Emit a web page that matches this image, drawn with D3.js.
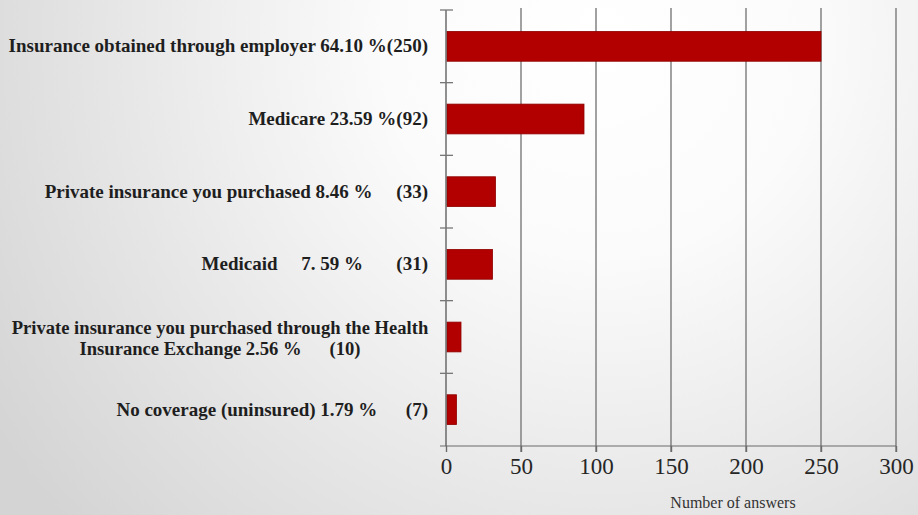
<!DOCTYPE html>
<html>
<head>
<meta charset="utf-8">
<script src="https://cdn.jsdelivr.net/npm/d3@7"></script>
<style>
html,body{margin:0;padding:0;overflow:hidden;}
svg{display:block;}
</style>
</head>
<body>
<svg id="chart" width="918" height="515"></svg>
<script>
// ---- data ----
const categories = [
  "Insurance obtained through employer",
  "Medicare",
  "Private insurance you purchased",
  "Medicaid",
  "Private insurance you purchased through the Health Insurance Exchange",
  "No coverage (uninsured)"
];
const labelLines = [
  ["Insurance obtained through employer 64.10 %(250)"],
  ["Medicare 23.59 %(92)"],
  ["Private insurance you purchased 8.46 %\u00a0\u00a0\u00a0\u00a0\u00a0(33)"],
  ["Medicaid\u00a0\u00a0\u00a0\u00a0\u00a07. 59 %\u00a0\u00a0\u00a0\u00a0\u00a0\u00a0\u00a0(31)"],
  ["Private insurance you purchased through the Health", "Insurance Exchange 2.56 %\u00a0\u00a0\u00a0\u00a0\u00a0\u00a0(10)"],
  ["No coverage (uninsured) 1.79 %\u00a0\u00a0\u00a0\u00a0\u00a0\u00a0(7)"]
];
const values = [250, 92, 33, 31, 10, 7];
const percents = [64.10, 23.59, 8.46, 7.59, 2.56, 1.79];
const xTicks = [0, 50, 100, 150, 200, 250, 300];
const xTitle = "Number of answers";

// ---- layout ----
const svg = d3.select("#chart");
const W = 918, H = 515;
const m = {left: 446, right: 22, top: 10, bottom: 69};

const defs = svg.append("defs");
const grad = defs.append("radialGradient").attr("id", "bg")
  .attr("gradientUnits", "userSpaceOnUse")
  .attr("cx", 600).attr("cy", 40).attr("r", 720);
grad.append("stop").attr("offset", "0%").attr("stop-color", "#ffffff");
grad.append("stop").attr("offset", "30%").attr("stop-color", "#fbfbfb");
grad.append("stop").attr("offset", "100%").attr("stop-color", "#d4d4d4");
svg.append("rect").attr("width", W).attr("height", H).attr("fill", "url(#bg)");

const x = d3.scaleLinear().domain([0, 300]).range([m.left, W - m.right]);
const pIn = 0.59;
const y = d3.scaleBand().domain(categories)
  .range([m.top, H - m.bottom]).paddingInner(pIn).paddingOuter(pIn / 2);
const step = y.step();
const y0 = m.top, y1 = H - m.bottom;

// gridlines (vertical) with tick extending below axis
svg.append("g").selectAll("line").data(xTicks.slice(1)).join("line")
  .attr("x1", d => x(d)).attr("x2", d => x(d))
  .attr("y1", y0 - 2).attr("y2", y1 + 6)
  .attr("stroke", "#7a7a7a").attr("stroke-width", 1.4);

// bars
svg.append("g").selectAll("rect").data(values).join("rect")
  .attr("x", x(0) + 1)
  .attr("y", (d, i) => y(categories[i]))
  .attr("width", d => x(d) - x(0) - 1)
  .attr("height", y.bandwidth())
  .attr("fill", "#b20000")
  .attr("stroke", "#8e0000").attr("stroke-width", 0.8);

// x axis
const xAxis = d3.axisBottom(x).tickValues(xTicks).tickSize(6).tickPadding(6).tickFormat(d3.format("d"));
const gx = svg.append("g").attr("transform", `translate(0,${y1})`).call(xAxis);
gx.select(".domain").attr("d", `M${x(0) - 6},0H${x(300)}`).attr("stroke", "#6a6a6a").attr("stroke-width", 1.2);
gx.selectAll(".tick line").attr("stroke", "#6a6a6a").attr("stroke-width", 1.4);
gx.selectAll(".tick text")
  .attr("font-family", "'Liberation Serif', 'Times New Roman', serif")
  .attr("font-size", 23).attr("fill", "#262626");

// y axis line and ticks at band boundaries
svg.append("line").attr("x1", x(0)).attr("x2", x(0)).attr("y1", y0).attr("y2", y1)
  .attr("stroke", "#555").attr("stroke-width", 1.3);
const bounds = d3.range(categories.length).map(i => y(categories[i]) - step * pIn / 2);
svg.append("g").selectAll("line").data(bounds).join("line")
  .attr("x1", x(0) - 6).attr("x2", x(0) + 7)
  .attr("y1", d => d).attr("y2", d => d)
  .attr("stroke", "#777").attr("stroke-width", 1.3);

// category labels
const lblG = svg.append("g")
  .attr("font-family", "'Liberation Serif', 'Times New Roman', serif")
  .attr("font-weight", "bold").attr("fill", "#1e1e1e");
labelLines.forEach((lines, i) => {
  const cy = y(categories[i]) + y.bandwidth() / 2;
  const multi = lines.length > 1;
  const lh = 21;
  const anchorX = multi ? 220 : 428;
  const t = lblG.append("text")
    .attr("font-size", multi ? 18.6 : 19)
    .attr("text-anchor", multi ? "middle" : "end");
  lines.forEach((ln, j) => {
    t.append("tspan").attr("x", anchorX)
      .attr("y", cy + (multi ? 7 : 6) + (j - (lines.length - 1) / 2) * lh)
      .text(ln);
  });
});

// x title
svg.append("text")
  .attr("x", 733).attr("y", 508)
  .attr("text-anchor", "middle")
  .attr("font-family", "'Liberation Serif', 'Times New Roman', serif")
  .attr("font-size", 16).attr("fill", "#333")
  .text(xTitle);
</script>
</body>
</html>
